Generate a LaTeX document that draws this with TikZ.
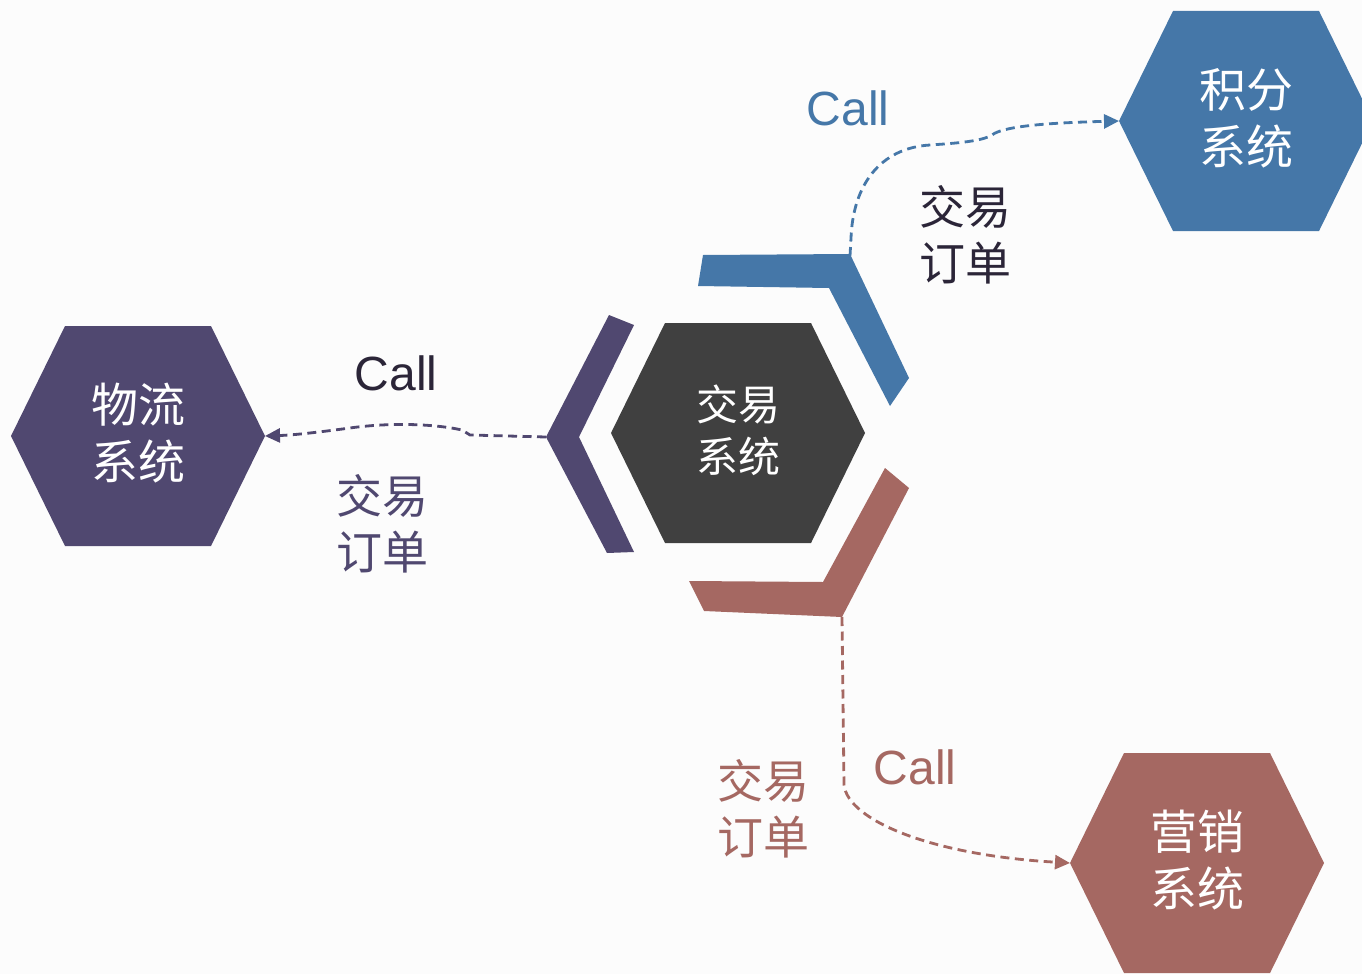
\documentclass[tikz,border=0pt]{standalone}
\usepackage{fontspec}
\setmainfont{Liberation Sans}
\newfontfamily\cjk{Noto Sans CJK SC}
\usetikzlibrary{arrows.meta}
\definecolor{cpurple}{RGB}{80,72,112}
\definecolor{cblue}{RGB}{69,119,168}
\definecolor{cred}{RGB}{165,104,98}
\definecolor{cdark}{RGB}{64,64,64}
\definecolor{ctext}{RGB}{43,37,56}
\definecolor{cbg}{RGB}{252,252,252}
\begin{document}
\begin{tikzpicture}[x=1pt,y=-1pt,
  hextxt/.style={text=white, align=center, inner sep=0pt},
  bighex/.style={hextxt, font=\cjk\fontsize{47}{57}\selectfont},
  midhex/.style={hextxt, font=\cjk\fontsize{42}{52}\selectfont},
  link/.style={line width=2.8pt, dash pattern=on 9pt off 5.5pt, -{Triangle[length=15pt,width=14pt]}},
  calltxt/.style={font=\fontsize{48}{48}\selectfont, inner sep=0pt},
  ordtxt/.style={font=\cjk\fontsize{46}{56}\selectfont, align=center, inner sep=0pt}]
\clip (0,0) rectangle (1362,974);
\fill[cbg] (0,0) rectangle (1362,974);

% hexagon shapes (flat top, half-width 127, top half-width 73, half-height 110)
\fill[cdark]   (611,433)  -- ++(54,-110) -- ++(146,0) -- ++(54,110) -- ++(-54,110) -- ++(-146,0) -- cycle;
\fill[cpurple] (11,436)   -- ++(54,-110) -- ++(146,0) -- ++(54,110) -- ++(-54,110) -- ++(-146,0) -- cycle;
\fill[cblue]   (1119,121) -- ++(54,-110) -- ++(146,0) -- ++(54,110) -- ++(-54,110) -- ++(-146,0) -- cycle;
\fill[cred]    (1070,863) -- ++(54,-110) -- ++(146,0) -- ++(54,110) -- ++(-54,110) -- ++(-146,0) -- cycle;

% hexagon texts
\node[midhex] (core) at (738,430) {交易\\系统};
\node[bighex] (wl) at (138,433) {物流\\系统};
\node[bighex] (wb) at (1246,118) {积分\\系统};
\node[bighex] (wr) at (1197,860) {营销\\系统};
\coordinate (wle) at (265,436);
\coordinate (wbw) at (1119,121);
\coordinate (wrw) at (1070,863);

% brackets
\fill[cpurple] (609,315) -- (634,325) -- (579,437) -- (634,552) -- (607,553) -- (546,437) -- cycle;
\fill[cblue] (703,255) -- (850,254) -- (909,378) -- (890,406) -- (829,288) -- (698,286) -- cycle;
\fill[cred] (885,468) -- (909,488) -- (842,617) -- (704,611) -- (689,581) -- (823,582) -- cycle;
\coordinate (pl) at (546,437);
\coordinate (pb) at (850,256);
\coordinate (pr) at (842,617);

% connectors
\draw[link, cpurple] (pl) -- (470,435) -- (462,430) .. controls (430,423) and (385,423) .. (350,428) .. controls (320,432) and (295,435) .. (wle);
\draw[link, cblue] (pb) -- (851,238) .. controls (853,185) and (880,148) .. (930,145) .. controls (960,143) and (982,141) .. (992,135) .. controls (1002,127) and (1040,123) .. (wbw);
\draw[link, cred] (pr) -- (844,785) .. controls (848,820) and (930,855) .. (wrw);

% labels
\node[calltxt, text=ctext] (c1) at (396,373) {Call};
\node[calltxt, text=cblue] (c2) at (848,108) {Call};
\node[calltxt, text=cred] (c3) at (915,767) {Call};
\node[ordtxt, text=cpurple] (o1) at (382,524) {交易\\订单};
\node[ordtxt, text=ctext] (o2) at (965,235) {交易\\订单};
\node[ordtxt, text=cred] (o3) at (763,809) {交易\\订单};
\end{tikzpicture}
\end{document}
